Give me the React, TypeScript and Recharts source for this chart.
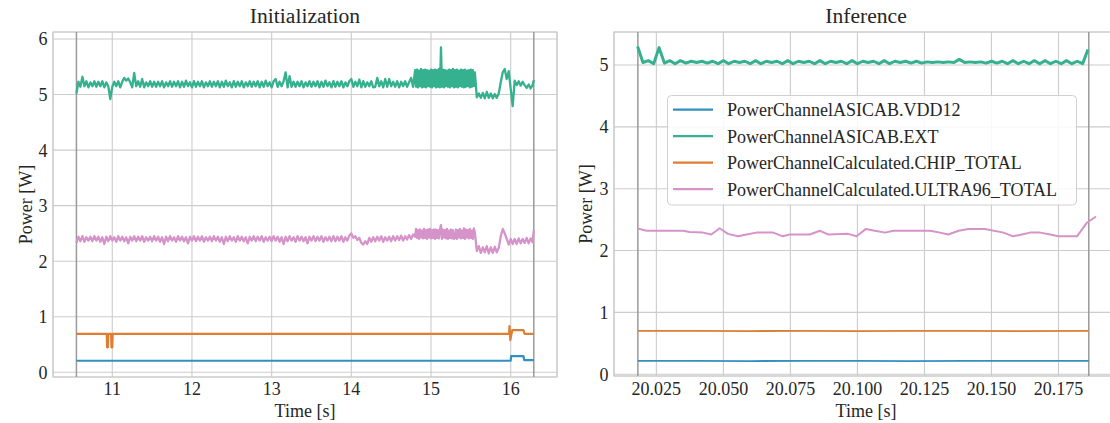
import React from 'react';
import { LineChart, Line, XAxis, YAxis, CartesianGrid, ReferenceLine, ReferenceArea } from 'recharts';

const SERIES_NAMES = [
  'PowerChannelASICAB.VDD12',
  'PowerChannelASICAB.EXT',
  'PowerChannelCalculated.CHIP_TOTAL',
  'PowerChannelCalculated.ULTRA96_TOTAL',
];
const COLORS = ['#348fc1', '#35b18f', '#dd7e33', '#d693ca'];

// ---------- Initialization panel ----------
const initXTicks = [11, 12, 13, 14, 15, 16];
const initYTicks = [0, 1, 2, 3, 4, 5, 6];
const initBounds = [10.55, 16.29];

const initTime = [
  10.55, 10.575, 10.6, 10.625, 10.65, 10.675, 10.7, 10.725, 10.75, 10.775,
  10.8, 10.825, 10.85, 10.875, 10.9, 10.925, 10.95, 10.975, 11, 11.025,
  11.05, 11.075, 11.1, 11.125, 11.15, 11.175, 11.2, 11.225, 11.25, 11.275,
  11.3, 11.325, 11.35, 11.375, 11.4, 11.425, 11.45, 11.475, 11.5, 11.525,
  11.55, 11.575, 11.6, 11.625, 11.65, 11.675, 11.7, 11.725, 11.75, 11.775,
  11.8, 11.825, 11.85, 11.875, 11.9, 11.925, 11.95, 11.975, 12, 12.025,
  12.05, 12.075, 12.1, 12.125, 12.15, 12.175, 12.2, 12.225, 12.25, 12.275,
  12.3, 12.325, 12.35, 12.375, 12.4, 12.425, 12.45, 12.475, 12.5, 12.525,
  12.55, 12.575, 12.6, 12.625, 12.65, 12.675, 12.7, 12.725, 12.75, 12.775,
  12.8, 12.825, 12.85, 12.875, 12.9, 12.925, 12.95, 12.975, 13, 13.025,
  13.05, 13.075, 13.1, 13.125, 13.15, 13.175, 13.2, 13.225, 13.25, 13.275,
  13.3, 13.325, 13.35, 13.375, 13.4, 13.425, 13.45, 13.475, 13.5, 13.525,
  13.55, 13.575, 13.6, 13.625, 13.65, 13.675, 13.7, 13.725, 13.75, 13.775,
  13.8, 13.825, 13.85, 13.875, 13.9, 13.925, 13.95, 13.975, 14, 14.025,
  14.05, 14.075, 14.1, 14.125, 14.15, 14.175, 14.2, 14.225, 14.25, 14.275,
  14.3, 14.325, 14.35, 14.375, 14.4, 14.425, 14.45, 14.475, 14.5, 14.525,
  14.55, 14.575, 14.6, 14.625, 14.65, 14.675, 14.7, 14.725, 14.75, 14.775,
  14.8, 14.8125, 14.825, 14.8375, 14.85, 14.8625, 14.875, 14.8875, 14.9, 14.9125,
  14.925, 14.9375, 14.95, 14.9625, 14.975, 14.9875, 15, 15.0125, 15.025, 15.0375,
  15.05, 15.0625, 15.075, 15.0875, 15.1, 15.1125, 15.125, 15.1375, 15.15, 15.1625,
  15.175, 15.1875, 15.2, 15.2125, 15.225, 15.2375, 15.25, 15.2625, 15.275, 15.2875,
  15.3, 15.3125, 15.325, 15.3375, 15.35, 15.3625, 15.375, 15.3875, 15.4, 15.4125,
  15.425, 15.4375, 15.45, 15.4625, 15.475, 15.4875, 15.5, 15.5125, 15.525, 15.5375,
  15.55, 15.575, 15.6, 15.625, 15.65, 15.675, 15.7, 15.725, 15.75, 15.775,
  15.8, 15.825, 15.85, 15.875, 15.9, 15.925, 15.95, 15.975, 16, 16.025,
  16.05, 16.075, 16.1, 16.125, 16.15, 16.175, 16.2, 16.225, 16.25, 16.275,
  16.29,
];
const initExt = [
  5.02, 5.23, 5.14, 5.32, 5.15, 5.24, 5.13, 5.22, 5.15, 5.24,
  5.14, 5.23, 5.15, 5.24, 5.13, 5.22, 5.15, 4.92, 5.14, 5.23,
  5.15, 5.24, 5.13, 5.23, 5.30, 5.25, 5.29, 5.22, 5.13, 5.39,
  5.15, 5.24, 5.14, 5.28, 5.13, 5.22, 5.15, 5.24, 5.14, 5.23,
  5.14, 5.23, 5.15, 5.24, 5.13, 5.22, 5.15, 5.24, 5.14, 5.23,
  5.15, 5.24, 5.13, 5.23, 5.14, 5.25, 5.15, 5.22, 5.13, 5.24,
  5.14, 5.23, 5.15, 5.24, 5.13, 5.22, 5.15, 5.24, 5.14, 5.23,
  5.15, 5.24, 5.13, 5.23, 5.14, 5.25, 5.15, 5.22, 5.13, 5.24,
  5.14, 5.23, 5.15, 5.24, 5.13, 5.22, 5.15, 5.24, 5.14, 5.23,
  5.15, 5.24, 5.13, 5.23, 5.14, 5.25, 5.15, 5.22, 5.13, 5.24,
  5.28, 5.14, 5.23, 5.15, 5.24, 5.40, 5.13, 5.33, 5.14, 5.23,
  5.14, 5.23, 5.15, 5.24, 5.13, 5.22, 5.15, 5.24, 5.14, 5.23,
  5.15, 5.24, 5.13, 5.23, 5.14, 5.25, 5.15, 5.22, 5.13, 5.24,
  5.14, 5.23, 5.15, 5.24, 5.13, 5.22, 5.15, 5.24, 5.28, 5.14,
  5.23, 5.15, 5.27, 5.13, 5.24, 5.14, 5.22, 5.15, 5.24, 5.13,
  5.14, 5.30, 5.15, 5.24, 5.13, 5.28, 5.14, 5.28, 5.15, 5.23,
  5.14, 5.24, 5.13, 5.23, 5.15, 5.24, 5.14, 5.22, 5.30, 5.14,
  5.44, 5.14, 5.45, 5.13, 5.43, 5.15, 5.46, 5.13, 5.44, 5.14,
  5.45, 5.13, 5.44, 5.15, 5.43, 5.14, 5.45, 5.13, 5.44, 5.15,
  5.45, 5.13, 5.44, 5.14, 5.46, 5.13, 5.85, 5.14, 5.45, 5.13,
  5.44, 5.15, 5.43, 5.14, 5.45, 5.13, 5.44, 5.15, 5.46, 5.13,
  5.44, 5.14, 5.45, 5.13, 5.43, 5.15, 5.45, 5.14, 5.44, 5.13,
  5.45, 5.14, 5.43, 5.15, 5.44, 5.13, 5.45, 5.14, 5.44, 5.15,
  5.40, 4.95, 5.02, 4.94, 5.03, 4.93, 5.05, 4.94, 5.02, 4.93,
  5.01, 4.94, 5.02, 5.22, 5.40, 5.46, 5.28, 5.42, 5.10, 4.79,
  5.25, 5.17, 5.24, 5.16, 5.23, 5.17, 5.12, 5.18, 5.11, 5.17,
  5.26,
];
const initUltra = [
  2.33, 2.44, 2.36, 2.45, 2.35, 2.43, 2.37, 2.44, 2.36, 2.45,
  2.37, 2.44, 2.35, 2.43, 2.31, 2.44, 2.36, 2.45, 2.37, 2.43,
  2.35, 2.45, 2.37, 2.44, 2.36, 2.43, 2.32, 2.44, 2.37, 2.45,
  2.36, 2.44, 2.37, 2.45, 2.35, 2.43, 2.37, 2.44, 2.36, 2.45,
  2.37, 2.44, 2.35, 2.43, 2.31, 2.44, 2.36, 2.45, 2.37, 2.43,
  2.35, 2.45, 2.37, 2.44, 2.36, 2.43, 2.32, 2.44, 2.37, 2.45,
  2.36, 2.44, 2.37, 2.45, 2.35, 2.43, 2.37, 2.44, 2.36, 2.45,
  2.37, 2.44, 2.35, 2.43, 2.31, 2.44, 2.36, 2.45, 2.37, 2.43,
  2.35, 2.45, 2.37, 2.44, 2.36, 2.43, 2.32, 2.44, 2.37, 2.45,
  2.36, 2.44, 2.37, 2.45, 2.35, 2.43, 2.37, 2.44, 2.36, 2.45,
  2.37, 2.44, 2.35, 2.43, 2.31, 2.44, 2.36, 2.45, 2.37, 2.43,
  2.35, 2.45, 2.37, 2.44, 2.36, 2.43, 2.32, 2.44, 2.37, 2.45,
  2.36, 2.44, 2.37, 2.45, 2.35, 2.43, 2.37, 2.44, 2.36, 2.45,
  2.36, 2.44, 2.37, 2.45, 2.35, 2.43, 2.37, 2.46, 2.50, 2.42,
  2.45, 2.38, 2.42, 2.33, 2.30, 2.36, 2.31, 2.42, 2.35, 2.43,
  2.36, 2.44, 2.37, 2.45, 2.35, 2.43, 2.37, 2.44, 2.36, 2.45,
  2.37, 2.45, 2.38, 2.46, 2.37, 2.45, 2.39, 2.47, 2.40, 2.48,
  2.44, 2.58, 2.42, 2.56, 2.40, 2.57, 2.43, 2.55, 2.41, 2.58,
  2.42, 2.56, 2.40, 2.57, 2.43, 2.58, 2.41, 2.56, 2.42, 2.57,
  2.40, 2.57, 2.42, 2.56, 2.41, 2.58, 2.65, 2.40, 2.57, 2.43,
  2.56, 2.41, 2.58, 2.40, 2.55, 2.42, 2.57, 2.41, 2.56, 2.40,
  2.42, 2.57, 2.40, 2.56, 2.43, 2.58, 2.41, 2.55, 2.42, 2.59,
  2.40, 2.57, 2.43, 2.56, 2.41, 2.58, 2.42, 2.55, 2.40, 2.59,
  2.52, 2.18, 2.27, 2.15, 2.25, 2.16, 2.27, 2.14, 2.25, 2.15,
  2.26, 2.16, 2.24, 2.45, 2.58, 2.50, 2.40, 2.30, 2.40, 2.31,
  2.40, 2.31, 2.41, 2.32, 2.40, 2.33, 2.42, 2.32, 2.41, 2.34,
  2.56,
];
const initChipTime = [10.55, 10.93, 10.935, 10.945, 10.95, 10.985, 10.99, 11.0, 11.005, 15.98, 15.985, 15.995, 16.0, 16.02, 16.16, 16.175, 16.29];
const initChip = [0.69, 0.69, 0.45, 0.45, 0.69, 0.69, 0.45, 0.45, 0.69, 0.69, 0.83, 0.58, 0.62, 0.76, 0.76, 0.69, 0.69];
const initVddTime = [10.55, 16.0, 16.005, 16.16, 16.17, 16.29];
const initVdd = [0.208, 0.208, 0.29, 0.29, 0.22, 0.22];

// ---------- Inference panel ----------
const infXTicks = [20.025, 20.05, 20.075, 20.1, 20.125, 20.15, 20.175];
const infYTicks = [0, 1, 2, 3, 4, 5];
const infBounds = [20.0181, 20.1863];

const infExtTime = [
  20.018, 20.02, 20.022, 20.024, 20.026, 20.028, 20.03, 20.032, 20.034, 20.036,
  20.038, 20.04, 20.042, 20.044, 20.046, 20.048, 20.05, 20.052, 20.054, 20.056,
  20.058, 20.06, 20.062, 20.064, 20.066, 20.068, 20.07, 20.072, 20.074, 20.076,
  20.078, 20.08, 20.082, 20.084, 20.086, 20.088, 20.09, 20.092, 20.094, 20.096,
  20.098, 20.1, 20.102, 20.104, 20.106, 20.108, 20.11, 20.112, 20.114, 20.116,
  20.118, 20.12, 20.122, 20.124, 20.126, 20.128, 20.13, 20.132, 20.134, 20.136,
  20.138, 20.14, 20.142, 20.144, 20.146, 20.148, 20.15, 20.152, 20.154, 20.156,
  20.158, 20.16, 20.162, 20.164, 20.166, 20.168, 20.17, 20.172, 20.174, 20.176,
  20.178, 20.18, 20.182, 20.184, 20.186,
];
const infExt = [
  5.30, 5.04, 5.07, 5.02, 5.28, 5.03, 5.07, 5.02, 5.07, 5.03,
  5.06, 5.04, 5.06, 5.03, 5.06, 5.02, 5.07, 5.02, 5.06, 5.04,
  5.06, 5.02, 5.07, 5.02, 5.06, 5.04, 5.06, 5.02, 5.07, 5.02,
  5.06, 5.04, 5.06, 5.02, 5.07, 5.02, 5.06, 5.04, 5.06, 5.02,
  5.07, 5.02, 5.06, 5.04, 5.06, 5.02, 5.07, 5.02, 5.06, 5.04,
  5.06, 5.03, 5.06, 5.03, 5.05, 5.04, 5.05, 5.04, 5.05, 5.04,
  5.09, 5.04, 5.05, 5.04, 5.05, 5.03, 5.06, 5.03, 5.06, 5.02,
  5.07, 5.02, 5.06, 5.02, 5.07, 5.02, 5.07, 5.02, 5.06, 5.02,
  5.07, 5.02, 5.06, 5.02, 5.25,
];
const infUltraTime = [
  20.0181, 20.0213, 20.035, 20.0374, 20.0424, 20.0455, 20.0486, 20.0517, 20.0555, 20.0586,
  20.0623, 20.0686, 20.0722, 20.0747, 20.0822, 20.086, 20.089, 20.0965, 20.0997, 20.1032,
  20.1065, 20.1103, 20.1134, 20.1271, 20.1308, 20.1339, 20.1377, 20.1414, 20.1476, 20.1545,
  20.158, 20.1613, 20.1644, 20.1682, 20.1719, 20.175, 20.1819, 20.1856, 20.189,
];
const infUltra = [
  2.356, 2.32, 2.32, 2.30, 2.29, 2.26, 2.36, 2.27, 2.23, 2.26,
  2.29, 2.29, 2.23, 2.26, 2.26, 2.32, 2.26, 2.27, 2.23, 2.35,
  2.32, 2.29, 2.32, 2.32, 2.29, 2.26, 2.32, 2.35, 2.35, 2.29,
  2.23, 2.26, 2.29, 2.29, 2.26, 2.23, 2.23, 2.45, 2.55,
];
const infFlatTime = [20.0181, 20.04, 20.06, 20.08, 20.1, 20.12, 20.14, 20.16, 20.1863];
const infChip = [0.70, 0.702, 0.699, 0.701, 0.698, 0.702, 0.7, 0.699, 0.7];
const infVdd = [0.215, 0.217, 0.214, 0.216, 0.215, 0.214, 0.216, 0.215, 0.215];

const zip = (ts: number[], vs: number[]) => ts.map((t, i) => ({ t, v: vs[i] }));

const TEXT = '#262626';
const GRID = '#cccccc';
const txt = { fontFamily: "'Liberation Serif', serif", fill: TEXT } as React.CSSProperties;

type PanelProps = {
  xDomain: [number, number];
  yDomain: [number, number];
  xTicks: number[];
  yTicks: number[];
  fmt: (v: number) => string;
  series: { data: { t: number; v: number }[]; color: string; width: number }[];
  bounds: number[];
  yAxisWidth: number;
  xAxisHeight: number;
  marginRight: number;
};

function Panel(p: PanelProps) {
  const xTick = (props: any) => (
    <text x={props.x} y={395} textAnchor="middle" fontSize={18} style={txt}>
      {p.fmt(props.payload.value)}
    </text>
  );
  const yTick = (props: any) => (
    <text x={p.yAxisWidth - 5.5} y={props.y + 6.5} textAnchor="end" fontSize={18} style={txt}>
      {props.payload.value}
    </text>
  );
  return (
    <LineChart width={560} height={423} margin={{ top: 32, right: p.marginRight, bottom: 0, left: 0 }}>
      <CartesianGrid stroke={GRID} strokeWidth={1.1} />
      <XAxis
        type="number"
        dataKey="t"
        domain={p.xDomain}
        allowDataOverflow
        ticks={p.xTicks}
        tick={xTick}
        tickLine={false}
        axisLine={false}
        height={p.xAxisHeight}
        interval={0}
      />
      <YAxis
        type="number"
        dataKey="v"
        domain={p.yDomain}
        allowDataOverflow
        ticks={p.yTicks}
        tick={yTick}
        tickLine={false}
        axisLine={false}
        width={p.yAxisWidth}
        interval={0}
      />
      <ReferenceArea
        x1={p.xDomain[0]}
        x2={p.xDomain[1]}
        y1={p.yDomain[0]}
        y2={p.yDomain[1]}
        fill="none"
        fillOpacity={0}
        stroke={GRID}
        strokeWidth={1.2}
        ifOverflow="visible"
      />
      {p.bounds.map((b) => (
        <ReferenceLine key={b} x={b} stroke="#9a9a9a" strokeWidth={1.5} />
      ))}
      {p.series.map((s, i) => (
        <Line
          key={i}
          data={s.data}
          dataKey="v"
          type="linear"
          stroke={s.color}
          strokeWidth={s.width}
          strokeLinejoin="round"
          dot={false}
          activeDot={false}
          isAnimationActive={false}
        />
      ))}
    </LineChart>
  );
}

export default function App() {
  const leftSeries = [
    { data: zip(initVddTime, initVdd), color: COLORS[0], width: 2.2 },
    { data: zip(initTime, initExt), color: COLORS[1], width: 2.3 },
    { data: zip(initChipTime, initChip), color: COLORS[2], width: 2.2 },
    { data: zip(initTime, initUltra), color: COLORS[3], width: 2.3 },
  ];
  const rightSeries = [
    { data: zip(infFlatTime, infVdd), color: COLORS[0], width: 1.8 },
    { data: zip(infExtTime, infExt), color: COLORS[1], width: 3 },
    { data: zip(infFlatTime, infChip), color: COLORS[2], width: 1.8 },
    { data: zip(infUltraTime, infUltra), color: COLORS[3], width: 2 },
  ];
  const legendRows = [109.7, 136.2, 162.7, 189.2];
  return (
    <div style={{ position: 'fixed', left: 0, top: 0, width: 1110, height: 423, overflow: 'hidden', background: '#fff' }}>
      <div style={{ position: 'absolute', left: 0, top: 0 }}>
        <Panel
          xDomain={[10.256, 16.581]}
          yDomain={[-0.085, 6.126]}
          xTicks={initXTicks}
          yTicks={initYTicks}
          fmt={(v) => String(v)}
          series={leftSeries}
          bounds={initBounds}
          yAxisWidth={53}
          xAxisHeight={46}
          marginRight={3}
        />
      </div>
      <div style={{ position: 'absolute', left: 560, top: 0 }}>
        <Panel
          xDomain={[20.0092, 20.1972]}
          yDomain={[-0.028, 5.533]}
          xTicks={infXTicks}
          yTicks={infYTicks}
          fmt={(v) => v.toFixed(3)}
          series={rightSeries}
          bounds={infBounds}
          yAxisWidth={54}
          xAxisHeight={47}
          marginRight={2}
        />
      </div>
      <svg width={1110} height={423} style={{ position: 'absolute', left: 0, top: 0, pointerEvents: 'none' }}>
        <text x={305} y={23} textAnchor="middle" fontSize={21.6} style={txt}>Initialization</text>
        <text x={866} y={23} textAnchor="middle" fontSize={21.6} style={txt}>Inference</text>
        <text x={305} y={417} textAnchor="middle" fontSize={18} style={txt}>Time [s]</text>
        <text x={866} y={417} textAnchor="middle" fontSize={18} style={txt}>Time [s]</text>
        <text x={31.5} y={204.5} textAnchor="middle" fontSize={18} style={txt} transform="rotate(-90, 31.5, 204.5)">Power [W]</text>
        <text x={591.5} y={204} textAnchor="middle" fontSize={18} style={txt} transform="rotate(-90, 591.5, 204)">Power [W]</text>
        <rect x={667.5} y={95.5} width={409} height={109.5} rx={4} ry={4} fill="#ffffff" fillOpacity={0.85} stroke="#d0d0d0" strokeWidth={1} />
        {SERIES_NAMES.map((name, i) => (
          <g key={name}>
            <line x1={673} x2={713} y1={legendRows[i]} y2={legendRows[i]} stroke={COLORS[i]} strokeWidth={2.2} />
            <text x={727} y={legendRows[i] + 6.3} fontSize={18} style={txt}>{name}</text>
          </g>
        ))}
      </svg>
    </div>
  );
}
